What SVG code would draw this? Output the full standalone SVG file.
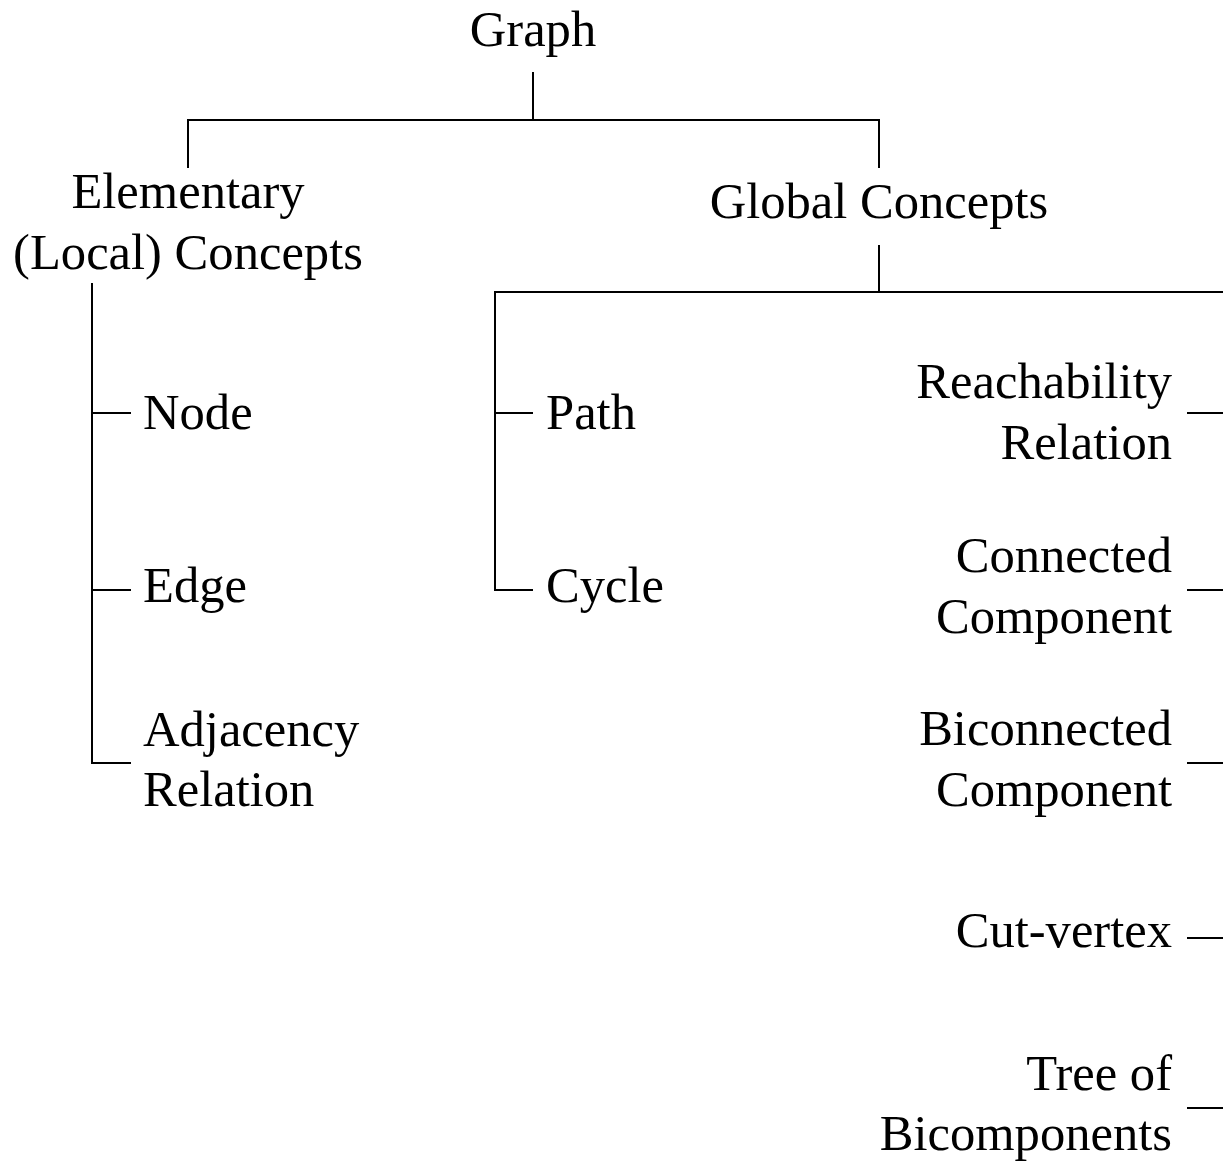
<svg xmlns="http://www.w3.org/2000/svg" width="1223" height="1162" viewBox="0 0 1223 1162">
  <style>
    text { font-family: "Liberation Serif", "Times New Roman", serif; font-size: 50.6px; fill: #000; }
    .mid { text-anchor: middle; }
    .end { text-anchor: end; }
    .link { fill: none; stroke: #000; stroke-width: 2; }
  </style>
  <rect width="1223" height="1162" fill="#fff"/>

  <!-- tree connectors -->
  <g id="connectors" class="link">
    <path class="link" d="M533 72 V120 M188 168 V120 H879 V168"/>
    <path class="link" d="M92 283 V763 H131 M92 413 H131 M92 590 H131"/>
    <path class="link" d="M879 245 V292 M1223 292 H495 V590 H533 M495 413 H533"/>
    <path class="link" d="M1187 413 H1223 M1187 590 H1223 M1187 763 H1223 M1187 938 H1223 M1187 1108 H1223"/>
  </g>

  <g id="graph"><text class="mid" x="533" y="46">Graph</text></g>
  <g id="elementary">
    <text class="mid" x="188" y="208">Elementary</text>
    <text class="mid" x="188" y="269">(Local) Concepts</text>
  </g>
  <g id="global"><text class="mid" x="879" y="218">Global Concepts</text></g>

  <g id="node"><text x="143" y="429">Node</text></g>
  <g id="edge"><text x="143" y="602">Edge</text></g>
  <g id="adjacency">
    <text x="143" y="746">Adjacency</text>
    <text x="143" y="806">Relation</text>
  </g>

  <g id="path"><text x="546" y="429">Path</text></g>
  <g id="cycle"><text x="546" y="602">Cycle</text></g>

  <g id="reachability">
    <text class="end" x="1172" y="398">Reachability</text>
    <text class="end" x="1172" y="459">Relation</text>
  </g>
  <g id="connected">
    <text class="end" x="1172" y="572">Connected</text>
    <text class="end" x="1172" y="633">Component</text>
  </g>
  <g id="biconnected">
    <text class="end" x="1172" y="745">Biconnected</text>
    <text class="end" x="1172" y="806">Component</text>
  </g>
  <g id="cutvertex"><text class="end" x="1172" y="947">Cut-vertex</text></g>
  <g id="tree">
    <text class="end" x="1172" y="1090">Tree of</text>
    <text class="end" x="1172" y="1150">Bicomponents</text>
  </g>
</svg>
